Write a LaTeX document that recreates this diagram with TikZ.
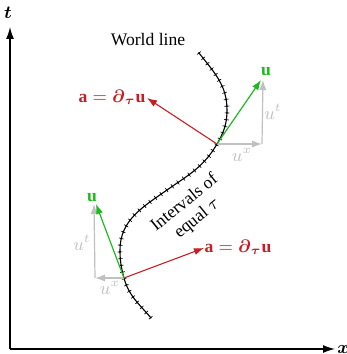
\documentclass[tikz,border=0pt]{standalone}
\usepackage{fontspec}
\setmainfont{Liberation Serif}
\usepackage{amsmath}
\usetikzlibrary{arrows.meta,decorations.markings,positioning}
\definecolor{accred}{RGB}{200,30,35}
\definecolor{velgreen}{RGB}{30,185,30}
\definecolor{compgray}{RGB}{192,192,192}
\newcommand{\accellabel}{$\mathbf{a}=\boldsymbol{\partial}_{\boldsymbol{\tau}}\mathbf{u}$}
\tikzset{
  label font/.style={font=\fontsize{8.8}{10}\selectfont},
  axis/.style={line width=0.65pt,-{Latex[length=6pt,width=4pt]}},
  accel/.style={accred,line width=0.55pt,-{Latex[length=5pt,width=3.6pt]}},
  vel/.style={velgreen,line width=0.6pt,-{Latex[length=5pt,width=3.6pt]}},
  comp/.style={compgray,line width=0.6pt,-{Latex[length=5pt,width=3.6pt]}},
  worldline/.style={line width=0.55pt,
    postaction={decorate,decoration={markings,
      mark=between positions 0 and 1 step 3.4pt with {
        \draw[line width=0.3pt] (0,-1.2pt) -- (0,1.2pt);
        \fill (0,0) circle (0.5pt);}}}}
}
\begin{document}
\begin{tikzpicture}[x=0.5pt,y=0.5pt,every node/.style={label font}]
  \useasboundingbox (0,0) rectangle (347,354);

  % axes
  \coordinate (o) at (10,5);
  \coordinate (tend) at (10,327);
  \coordinate (xend) at (335,5);
  \draw[axis] (o) -- (tend);
  \draw[axis] (o) -- (xend);
  \node (tlab) at (8,341) {$\boldsymbol{t}$};
  \node[right = 0pt of xend, inner sep=1pt] (xlab) {$\boldsymbol{x}$};

  % events on the world line
  \coordinate (wltop) at (199,301);
  \coordinate (wlright) at (227,244);
  \coordinate (evup) at (217,210);
  \coordinate (wlmid) at (167,164);
  \coordinate (wlleft) at (120,104);
  \coordinate (evlow) at (124,76);
  \coordinate (wlbot) at (151,36);

  % world line
  \draw[worldline] (wltop) to[out=-52,in=90] (wlright)
    to[out=-90,in=60] (evup) to[out=-120,in=35] (wlmid)
    to[out=-145,in=90] (wlleft) to[out=-90,in=105] (evlow)
    to[out=-75,in=130] (wlbot);
  \node (wl) at (148,314) {World line};
  \node[rotate=39, align=center, inner sep=0pt] (ivl) at (191,143)
    {Intervals of\\equal $\tau$};

  % upper event
  \coordinate (uxup) at (262,210);
  \coordinate (uup) at (261,274);
  \coordinate (aup) at (147,256);
  \draw[comp] (evup) -- (uxup);
  \draw[comp] (uxup) -- ([xshift=1]uup);
  \draw[accel] (evup) -- (aup);
  \draw[vel] (evup) -- (uup);
  \node[velgreen] (ulabup) at (266,282) {$\mathbf{u}$};
  \node[compgray] (utup) at (273,242) {$u^t$};
  \node[compgray] (uxlabup) at (242,199) {$u^x$};
  \node[accred] (alabup) at (112,257) {\accellabel};

  % lower event
  \coordinate (uxlow) at (95,76);
  \coordinate (ulow) at (96,150);
  \coordinate (alow) at (204,106);
  \draw[comp] (evlow) -- (uxlow);
  \draw[comp] (uxlow) -- ([xshift=-1]ulow);
  \draw[accel] (evlow) -- (alow);
  \draw[vel] (evlow) -- (ulow);
  \node[velgreen] (ulablow) at (92,156) {$\mathbf{u}$};
  \node[compgray] (utlow) at (82,111) {$u^t$};
  \node[compgray] (uxlablow) at (110,66) {$u^x$};
  \node[accred] (alablow) at (238,107) {\accellabel};
\end{tikzpicture}
\end{document}
